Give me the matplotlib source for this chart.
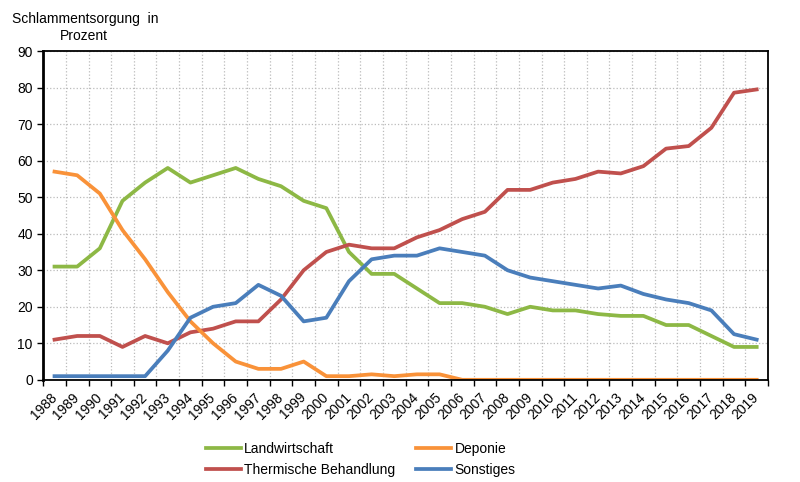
import matplotlib
matplotlib.use("Agg")
import matplotlib.pyplot as plt
import numpy as np

plt.rcParams['font.family'] = ['Liberation Sans', 'DejaVu Sans']

# years 1988 - 2019
years = [str(y) for y in range(1988, 2020)]

landwirtschaft = [31, 31, 36, 49, 54, 58, 54, 56, 58, 55, 53, 49, 47, 35, 29, 29,
                  25, 21, 21, 20, 18, 20, 19, 19, 18, 17.5, 17.5, 15, 15, 12, 9, 9]
deponie = [57, 56, 51, 41, 33, 24, 16, 10, 5, 3, 3, 5, 1, 1, 1.5, 1,
           1.5, 1.5, 0, 0, 0, 0, 0, 0, 0, 0, 0, 0, 0, 0, 0, 0]
thermisch = [11, 12, 12, 9, 12, 10, 13, 14, 16, 16, 22, 30, 35, 37, 36, 36,
             39, 41, 44, 46, 52, 52, 54, 55, 57, 56.5, 58.5, 63.3, 64, 69, 78.6, 79.5]
sonstiges = [1, 1, 1, 1, 1, 8, 17, 20, 21, 26, 23, 16, 17, 27, 33, 34,
             34, 36, 35, 34, 30, 28, 27, 26, 25, 25.8, 23.5, 22, 21, 19, 12.5, 11]

fig = plt.figure(figsize=(8, 4.82), dpi=100)
ax = fig.add_axes([0.054, 0.212, 0.906, 0.682])

x = np.arange(len(years))
lw = 2.7
ax.plot(x, landwirtschaft, color='#8DB845', lw=lw, label='Landwirtschaft', solid_joinstyle='round')
ax.plot(x, thermisch, color='#C0504D', lw=lw, label='Thermische Behandlung', solid_joinstyle='round')
ax.plot(x, deponie, color='#F99239', lw=lw, label='Deponie', solid_joinstyle='round')
ax.plot(x, sonstiges, color='#4A7EBB', lw=lw, label='Sonstiges', solid_joinstyle='round')

ax.set_xlim(-0.5, len(years) - 0.5)
ax.set_ylim(0, 90)
ax.set_yticks(range(0, 91, 10))
ax.tick_params(axis='y', labelsize=10, direction='out', length=4, width=1)

# category boundaries as major ticks, year labels at the centres
ax.set_xticks(np.arange(-0.5, len(years), 1))
ax.set_xticklabels([])
ax.set_xticks(x, minor=True)
ax.set_xticklabels(years, minor=True, rotation=45, ha='right', va='center',
                   rotation_mode='anchor', fontsize=10)
ax.tick_params(axis='x', which='major', direction='out', length=4, width=1)
ax.tick_params(axis='x', which='minor', length=0, pad=11)

ax.grid(True, which='major', color='#BBBBBB', linestyle=':', linewidth=0.9)
ax.set_axisbelow(True)
for side in ['top', 'right', 'bottom']:
    ax.spines[side].set_linewidth(1.3)
ax.spines['left'].set_linewidth(2)

fig.text(0.015, 0.975, 'Schlammentsorgung  in', fontsize=10, ha='left', va='top')
fig.text(0.105, 0.94, 'Prozent', fontsize=10, ha='center', va='top')

fig.legend(loc='lower left', bbox_to_anchor=(0.242, -0.016), ncol=2, frameon=False,
           fontsize=10, handlelength=2.5, handletextpad=0.25, columnspacing=1.5,
           labelspacing=0.55)

fig.savefig('out.png', dpi=100)
